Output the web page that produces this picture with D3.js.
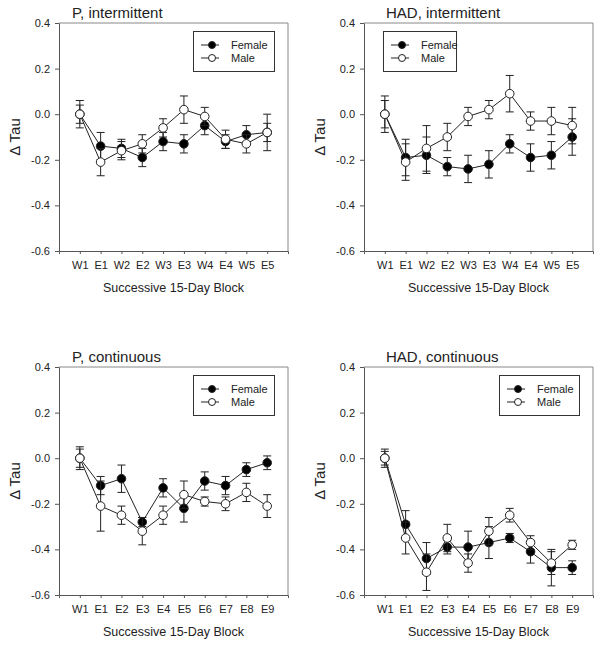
<!DOCTYPE html>
<html>
<head>
<meta charset="utf-8">
<script src="https://cdn.jsdelivr.net/npm/d3@7"></script>
<style>
  body { margin: 0; background: #fff; }
  svg { display: block; }
  text { font-family: Arial, "Liberation Sans", Helvetica, sans-serif; fill: #222; }
</style>
</head>
<body>
<svg id="chart" width="603" height="648"></svg>
<script>
// categories on the x axis
const blocksInter = ['W1','E1','W2','E2','W3','E3','W4','E4','W5','E5'];
const blocksCont = ['W1','E1','E2','E3','E4','E5','E6','E7','E8','E9'];
const yTicks = [0.4, 0.2, 0.0, -0.2, -0.4, -0.6];

// P, intermittent
const pInterFemale = [0, -0.14, -0.15, -0.19, -0.12, -0.13, -0.05, -0.12, -0.09, -0.08];
const pInterFemaleErr = [0.04, 0.06, 0.04, 0.04, 0.04, 0.04, 0.04, 0.03, 0.04, 0.04];
const pInterMale = [0, -0.21, -0.16, -0.13, -0.06, 0.02, -0.01, -0.11, -0.13, -0.08];
const pInterMaleErr = [0.06, 0.06, 0.04, 0.04, 0.04, 0.06, 0.04, 0.04, 0.04, 0.08];

// HAD, intermittent
const hadInterFemale = [0, -0.19, -0.18, -0.23, -0.24, -0.22, -0.13, -0.19, -0.18, -0.10];
const hadInterFemaleErr = [0.06, 0.08, 0.08, 0.04, 0.06, 0.06, 0.04, 0.06, 0.06, 0.08];
const hadInterMale = [0, -0.21, -0.15, -0.10, -0.01, 0.02, 0.09, -0.03, -0.03, -0.05];
const hadInterMaleErr = [0.08, 0.08, 0.10, 0.06, 0.04, 0.04, 0.08, 0.04, 0.06, 0.08];

// P, continuous
const pContFemale = [0, -0.12, -0.09, -0.28, -0.13, -0.22, -0.10, -0.12, -0.05, -0.02];
const pContFemaleErr = [0.04, 0.04, 0.06, 0.02, 0.04, 0.06, 0.04, 0.04, 0.03, 0.03];
const pContMale = [0, -0.21, -0.25, -0.32, -0.25, -0.16, -0.19, -0.20, -0.15, -0.21];
const pContMaleErr = [0.05, 0.11, 0.04, 0.06, 0.04, 0.06, 0.02, 0.03, 0.04, 0.05];

// HAD, continuous
const hadContFemale = [0, -0.29, -0.44, -0.39, -0.39, -0.37, -0.35, -0.41, -0.48, -0.48];
const hadContFemaleErr = [0.03, 0.06, 0.07, 0.03, 0.07, 0.07, 0.02, 0.05, 0.08, 0.03];
const hadContMale = [0, -0.35, -0.50, -0.35, -0.46, -0.32, -0.25, -0.37, -0.46, -0.38];
const hadContMaleErr = [0.04, 0.07, 0.08, 0.06, 0.04, 0.06, 0.03, 0.03, 0.05, 0.02];

const svg = d3.select('#chart');

// draws one of the four panels
function drawPanel(ox, oy, title, titleX, cats, female, femaleErr, male, maleErr, legendX, legendW){
    let left = ox + 59, right = ox + 288;
    let top = oy + 23, bottom = oy + 251;

    let xScale = d3.scaleLinear().domain([-1, cats.length]).range([left, right]);
    let yScale = d3.scaleLinear().domain([-0.6, 0.4]).range([bottom, top]);

    let g = svg.append('g');

    // top and right frame
    g.append('path')
        .attr('d', 'M' + left + ',' + top + 'H' + right + 'V' + bottom)
        .attr('fill', 'none')
        .attr('stroke', '#888')
        .attr('stroke-width', 1);

    // y axis
    let yAxis = d3.axisLeft(yScale)
        .tickValues(yTicks)
        .tickSizeInner(4)
        .tickSizeOuter(0)
        .tickPadding(5)
        .tickFormat(d => d.toFixed(1));
    let ya = g.append('g')
        .attr('transform', 'translate(' + left + ',0)')
        .call(yAxis);
    ya.selectAll('path, line').attr('stroke', '#555');
    ya.selectAll('text').style('font-size', '11px').attr('fill', '#222');

    // x axis
    let xAxis = d3.axisBottom(xScale)
        .tickValues(d3.range(cats.length))
        .tickSizeInner(3)
        .tickSizeOuter(3)
        .tickPadding(7)
        .tickFormat(i => cats[i]);
    let xa = g.append('g')
        .attr('transform', 'translate(0,' + bottom + ')')
        .call(xAxis);
    xa.selectAll('path, line').attr('stroke', '#555');
    xa.selectAll('text').style('font-size', '11px').attr('fill', '#222');

    // titles
    g.append('text')
        .attr('x', left + titleX)
        .attr('y', top - 5)
        .style('font-size', '15px')
        .text(title);

    g.append('text')
        .attr('x', (left + right) / 2)
        .attr('y', bottom + 41)
        .attr('text-anchor', 'middle')
        .style('font-size', '12.5px')
        .text('Successive 15-Day Block');

    g.append('text')
        .attr('transform', 'translate(' + (ox + 20) + ',' + ((top + bottom) / 2) + ') rotate(-90)')
        .attr('text-anchor', 'middle')
        .style('font-size', '15px')
        .text('\u0394 Tau');

    // series: female (filled) first, male (open) on top
    let series = [
        {vals: female, err: femaleErr, fill: '#000'},
        {vals: male, err: maleErr, fill: '#fff'}
    ];
    let line = d3.line()
        .x((d, i) => xScale(i))
        .y(d => yScale(d));

    series.forEach(function(s){
        let sg = g.append('g');
        sg.append('path')
            .datum(s.vals)
            .attr('d', line)
            .attr('fill', 'none')
            .attr('stroke', '#222')
            .attr('stroke-width', 1);

        let eb = sg.selectAll('.err')
            .data(s.vals)
            .enter()
            .append('g')
            .attr('class', 'err');
        eb.append('line')
            .attr('x1', (d, i) => xScale(i))
            .attr('x2', (d, i) => xScale(i))
            .attr('y1', (d, i) => yScale(d + s.err[i]))
            .attr('y2', (d, i) => yScale(d - s.err[i]))
            .attr('stroke', '#222');
        eb.append('line')
            .attr('x1', (d, i) => xScale(i) - 4)
            .attr('x2', (d, i) => xScale(i) + 4)
            .attr('y1', (d, i) => yScale(d + s.err[i]))
            .attr('y2', (d, i) => yScale(d + s.err[i]))
            .attr('stroke', '#222');
        eb.append('line')
            .attr('x1', (d, i) => xScale(i) - 4)
            .attr('x2', (d, i) => xScale(i) + 4)
            .attr('y1', (d, i) => yScale(d - s.err[i]))
            .attr('y2', (d, i) => yScale(d - s.err[i]))
            .attr('stroke', '#222');

        sg.selectAll('.pt')
            .data(s.vals)
            .enter()
            .append('circle')
            .attr('class', 'pt')
            .attr('cx', (d, i) => xScale(i))
            .attr('cy', d => yScale(d))
            .attr('r', 4.3)
            .attr('fill', s.fill)
            .attr('stroke', '#222')
            .attr('stroke-width', 1);
    });

    // legend box
    let lx = left + legendX, ly = top + 8;
    let lg = g.append('g');
    lg.append('rect')
        .attr('x', lx + 0.5)
        .attr('y', ly + 0.5)
        .attr('width', legendW)
        .attr('height', 40)
        .attr('fill', '#fff')
        .attr('stroke', '#333')
        .attr('stroke-width', 1);
    [['Female', '#000'], ['Male', '#fff']].forEach(function(item, k){
        let yy = ly + 14 + k * 13;
        lg.append('line')
            .attr('x1', lx + 8).attr('x2', lx + 26)
            .attr('y1', yy).attr('y2', yy)
            .attr('stroke', '#222');
        lg.append('circle')
            .attr('cx', lx + 19).attr('cy', yy)
            .attr('r', 3.5)
            .attr('fill', item[1])
            .attr('stroke', '#222');
        lg.append('text')
            .attr('x', lx + 38)
            .attr('y', yy + 4)
            .style('font-size', '11px')
            .text(item[0]);
    });
}

drawPanel(0, 0, 'P, intermittent', 13, blocksInter, pInterFemale, pInterFemaleErr, pInterMale, pInterMaleErr, 134, 81);
drawPanel(305, 0, 'HAD, intermittent', 22, blocksInter, hadInterFemale, hadInterFemaleErr, hadInterMale, hadInterMaleErr, 19, 73);
drawPanel(0, 344, 'P, continuous', 13, blocksCont, pContFemale, pContFemaleErr, pContMale, pContMaleErr, 134, 81);
drawPanel(305, 344, 'HAD, continuous', 22, blocksCont, hadContFemale, hadContFemaleErr, hadContMale, hadContMaleErr, 135, 80);
</script>
</body>
</html>
